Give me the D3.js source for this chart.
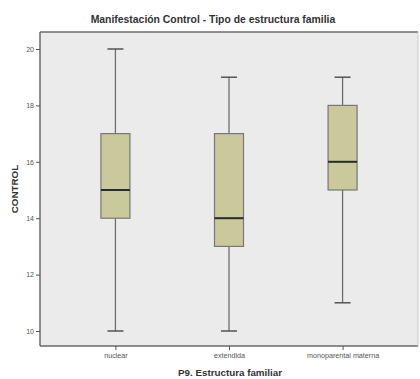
<!DOCTYPE html>
<html><head><meta charset="utf-8">
<script src="https://cdn.jsdelivr.net/npm/d3@7"></script>
<style>body{margin:0;background:#fff;}svg{display:block;}</style>
</head><body>
<script>
const categories = ["nuclear", "extendida", "monoparental materna"];
const minValues = [10, 10, 11];
const q1Values = [14, 13, 15];
const medianValues = [15, 14, 16];
const q3Values = [17, 17, 18];
const maxValues = [20, 19, 19];
const yTicks = [10, 12, 14, 16, 18, 20];
const title = "Manifestación Control - Tipo de estructura familia";
const xLabel = "P9. Estructura familiar";
const yLabel = "CONTROL";

const W = 420, H = 379;
const plot = {l: 40, r: 418, t: 32, b: 346};
const svg = d3.select("body").append("svg").attr("width", W).attr("height", H);
const font = "Arial, 'Liberation Sans', sans-serif";

const x = d3.scalePoint().domain(categories).range([plot.l, plot.r]).padding(0.664);
const y = d3.scaleLinear().domain([10, 20]).range([331, 49]);

svg.append("rect").attr("x", plot.l).attr("y", plot.t).attr("width", plot.r - plot.l).attr("height", plot.b - plot.t)
  .attr("fill", "#ebebeb").attr("stroke", "none");
// frame
svg.append("line").attr("x1", plot.l).attr("x2", plot.r).attr("y1", plot.t).attr("y2", plot.t).attr("stroke", "#6a6a6a").attr("stroke-width", 1.5);
svg.append("line").attr("x1", plot.l).attr("x2", plot.r).attr("y1", plot.b).attr("y2", plot.b).attr("stroke", "#6a6a6a").attr("stroke-width", 1.5);
svg.append("line").attr("x1", plot.l).attr("x2", plot.l).attr("y1", plot.t).attr("y2", plot.b).attr("stroke", "#6a6a6a").attr("stroke-width", 1.5);
svg.append("line").attr("x1", plot.r).attr("x2", plot.r).attr("y1", plot.t).attr("y2", plot.b).attr("stroke", "#c8c8c8").attr("stroke-width", 1);

// y axis
const yAxis = d3.axisLeft(y).tickValues(yTicks).tickSize(4).tickPadding(2);
const ya = svg.append("g").attr("transform", `translate(${plot.l},0)`).call(yAxis);
ya.select(".domain").remove();
ya.selectAll("line").attr("stroke", "#555");
ya.selectAll("text").attr("font-family", font).attr("font-size", 7).attr("fill", "#555");

// x axis
const xAxis = d3.axisBottom(x).tickSize(4).tickPadding(3);
const xa = svg.append("g").attr("transform", `translate(0,${plot.b})`).call(xAxis);
xa.select(".domain").remove();
xa.selectAll("line").attr("stroke", "#555");
xa.selectAll("text").attr("font-family", font).attr("font-size", 7.2).attr("fill", "#555");

const data = categories.map((c, i) => ({c, min: minValues[i], q1: q1Values[i], med: medianValues[i], q3: q3Values[i], max: maxValues[i]}));
const bw = 29, cap = 16;
const g = svg.append("g").selectAll("g").data(data).join("g");
g.append("line").attr("x1", d => x(d.c)).attr("x2", d => x(d.c)).attr("y1", d => y(d.max)).attr("y2", d => y(d.q3)).attr("stroke", "#6f6f6f").attr("stroke-width", 1.3);
g.append("line").attr("x1", d => x(d.c)).attr("x2", d => x(d.c)).attr("y1", d => y(d.q1)).attr("y2", d => y(d.min)).attr("stroke", "#6f6f6f").attr("stroke-width", 1.3);
g.append("line").attr("x1", d => x(d.c) - cap/2).attr("x2", d => x(d.c) + cap/2).attr("y1", d => y(d.max)).attr("y2", d => y(d.max)).attr("stroke", "#4a4a4a").attr("stroke-width", 1.4);
g.append("line").attr("x1", d => x(d.c) - cap/2).attr("x2", d => x(d.c) + cap/2).attr("y1", d => y(d.min)).attr("y2", d => y(d.min)).attr("stroke", "#4a4a4a").attr("stroke-width", 1.4);
g.append("rect").attr("x", d => x(d.c) - bw/2).attr("width", bw).attr("y", d => y(d.q3)).attr("height", d => y(d.q1) - y(d.q3))
  .attr("fill", "#c9c99b").attr("stroke", "#777").attr("stroke-width", 1.2);
g.append("line").attr("x1", d => x(d.c) - bw/2).attr("x2", d => x(d.c) + bw/2).attr("y1", d => y(d.med)).attr("y2", d => y(d.med)).attr("stroke", "#2a2a2a").attr("stroke-width", 2);

svg.append("text").attr("x", 213).attr("y", 23).attr("text-anchor", "middle").attr("font-family", font).attr("font-weight", "bold").attr("font-size", 10.4).attr("fill", "#333").text(title);
svg.append("text").attr("x", 230).attr("y", 376).attr("text-anchor", "middle").attr("font-family", font).attr("font-weight", "bold").attr("font-size", 9.8).attr("fill", "#333").text(xLabel);
svg.append("text").attr("transform", "translate(18,189) rotate(-90)").attr("text-anchor", "middle").attr("font-family", font).attr("font-weight", "bold").attr("font-size", 9.8).attr("fill", "#333").text(yLabel);
</script>
</body></html>
